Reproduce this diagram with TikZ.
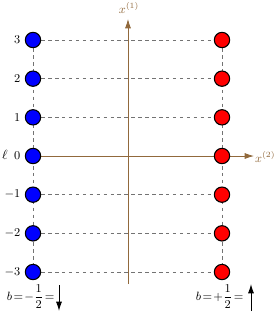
\documentclass[tikz,border=0pt]{standalone}
\usepackage{amsmath}
\usepackage{xcolor}
\usepackage{tikz}
\usetikzlibrary{arrows.meta,positioning,backgrounds}

\definecolor{axisbrown}{RGB}{145,105,60}

\begin{document}
\begin{tikzpicture}[x=0.75pt,y=-0.75pt,
  site/.style={circle, draw=black, line width=0.8pt, minimum size=11.5pt, inner sep=0pt},
  link/.style={draw=gray!90!black, dash pattern=on 2.6pt off 2.6pt, line width=0.5pt},
  axis/.style={-{Latex[length=7pt,width=4.5pt]}, draw=axisbrown, line width=0.55pt},
  spin/.style={-{Latex[length=7pt,width=4.5pt]}, line width=0.7pt},
  lab/.style={inner sep=1pt, font=\small}
]
\useasboundingbox (0,0) rectangle (277,312);
% lattice sites
\foreach \i/\l in {1/3,2/2,3/1,4/0,5/-1,6/-2,7/-3}{
  \node[site, fill=blue] (b\i) at (33,{156-38.67*(4-\i)}) {};
  \node[site, fill=red] (r\i) at (222,{156-38.67*(4-\i)}) {};
  \node[lab, anchor=east] (n\i) at (22,{156-38.67*(4-\i)}) {$\l$};
}
\node[lab, font=\normalsize] (ell) at (5,155) {$\ell$};
% axes
\coordinate (x1base) at (128,284);
\coordinate (x1tip) at (128,19);
\coordinate (x2tip) at (254,156);
\node[lab, text=axisbrown] (x1) at (129,8) {$x^{(1)}$};
\node[lab, text=axisbrown, anchor=east] (x2) at (277,157) {$x^{(2)}$};
\begin{scope}[on background layer]
  \foreach \i in {1,2,3,5,6,7}
    \draw[link] (b\i) -- (r\i);
  \draw[link] (b1) -- (b7);
  \draw[link] (r1) -- (r7);
  \draw[axis] (x1base) -- (x1tip);
  \draw[axis] (b4) -- (x2tip);
\end{scope}
% spin labels
\node[lab, anchor=east] (bm) at (56,297) {$b\!=\!-\dfrac{1}{2}\!=$};
\coordinate (dtop) at (59,285);
\coordinate (dbot) at (59,311);
\draw[spin] (dtop) -- (dbot);
\node[lab, anchor=east] (bp) at (245,297) {$b\!=\!+\dfrac{1}{2}\!=$};
\coordinate (ubot) at (251,311);
\coordinate (utop) at (251,284);
\draw[spin] (ubot) -- (utop);
\end{tikzpicture}
\end{document}
